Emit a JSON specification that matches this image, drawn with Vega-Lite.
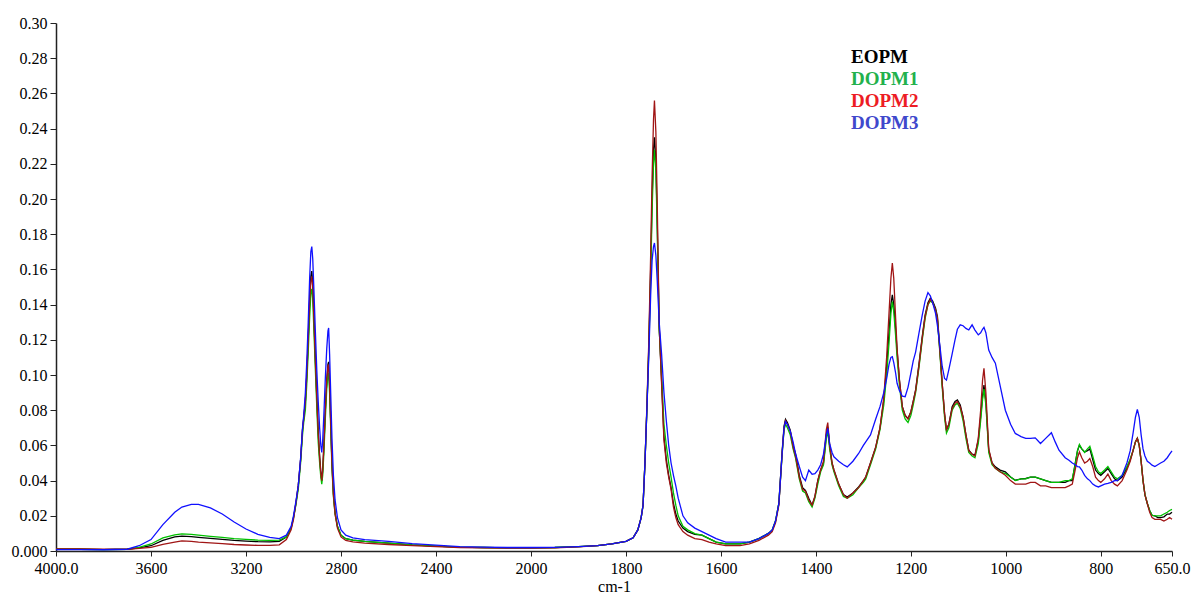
{
"$schema": "https://vega.github.io/schema/vega-lite/v6.json",
"width": 1116, "height": 528,
"autosize": {"type": "none"},
"padding": {"left": 56, "top": 23, "right": 23, "bottom": 45},
"background": "white",
"config": {"view": {"stroke": null}, "font": "Liberation Serif", "axis": {"labelFont": "Liberation Serif", "titleFont": "Liberation Serif"}},
"data": {"values": [
{"w":4000,"EOPM":0.001,"DOPM1":0.001,"DOPM2":0.0012,"DOPM3":0.0008},
{"w":3900,"EOPM":0.001,"DOPM1":0.001,"DOPM2":0.0012,"DOPM3":0.0008},
{"w":3800,"EOPM":0.0008,"DOPM1":0.0008,"DOPM2":0.001,"DOPM3":0.0007},
{"w":3700,"EOPM":0.001,"DOPM1":0.001,"DOPM2":0.001,"DOPM3":0.001},
{"w":3650,"EOPM":0.0018,"DOPM1":0.002,"DOPM2":0.0015,"DOPM3":0.003},
{"w":3600,"EOPM":0.003,"DOPM1":0.004,"DOPM2":0.002,"DOPM3":0.0065},
{"w":3550,"EOPM":0.006,"DOPM1":0.0075,"DOPM2":0.0038,"DOPM3":0.015},
{"w":3500,"EOPM":0.008,"DOPM1":0.0092,"DOPM2":0.005,"DOPM3":0.022},
{"w":3470,"EOPM":0.0085,"DOPM1":0.0097,"DOPM2":0.0057,"DOPM3":0.025},
{"w":3430,"EOPM":0.0082,"DOPM1":0.0094,"DOPM2":0.0055,"DOPM3":0.0265},
{"w":3400,"EOPM":0.0078,"DOPM1":0.009,"DOPM2":0.005,"DOPM3":0.0265},
{"w":3350,"EOPM":0.0072,"DOPM1":0.0083,"DOPM2":0.0046,"DOPM3":0.0245},
{"w":3300,"EOPM":0.0066,"DOPM1":0.0077,"DOPM2":0.0042,"DOPM3":0.021},
{"w":3250,"EOPM":0.006,"DOPM1":0.007,"DOPM2":0.0037,"DOPM3":0.0165},
{"w":3200,"EOPM":0.0056,"DOPM1":0.0066,"DOPM2":0.0034,"DOPM3":0.0125},
{"w":3150,"EOPM":0.0053,"DOPM1":0.0062,"DOPM2":0.0032,"DOPM3":0.0095},
{"w":3100,"EOPM":0.0052,"DOPM1":0.006,"DOPM2":0.0032,"DOPM3":0.0078},
{"w":3060,"EOPM":0.0055,"DOPM1":0.0062,"DOPM2":0.0035,"DOPM3":0.007},
{"w":3030,"EOPM":0.008,"DOPM1":0.008,"DOPM2":0.0065,"DOPM3":0.009},
{"w":3010,"EOPM":0.013,"DOPM1":0.013,"DOPM2":0.012,"DOPM3":0.014},
{"w":3000,"EOPM":0.019,"DOPM1":0.019,"DOPM2":0.018,"DOPM3":0.02},
{"w":2990,"EOPM":0.027,"DOPM1":0.026,"DOPM2":0.027,"DOPM3":0.028},
{"w":2980,"EOPM":0.037,"DOPM1":0.035,"DOPM2":0.037,"DOPM3":0.037},
{"w":2970,"EOPM":0.052,"DOPM1":0.05,"DOPM2":0.052,"DOPM3":0.053},
{"w":2962,"EOPM":0.069,"DOPM1":0.066,"DOPM2":0.069,"DOPM3":0.07},
{"w":2957,"EOPM":0.0755,"DOPM1":0.073,"DOPM2":0.075,"DOPM3":0.077},
{"w":2950,"EOPM":0.085,"DOPM1":0.08,"DOPM2":0.085,"DOPM3":0.09},
{"w":2944,"EOPM":0.1,"DOPM1":0.095,"DOPM2":0.1,"DOPM3":0.108},
{"w":2938,"EOPM":0.12,"DOPM1":0.113,"DOPM2":0.12,"DOPM3":0.13},
{"w":2932,"EOPM":0.143,"DOPM1":0.133,"DOPM2":0.142,"DOPM3":0.155},
{"w":2927,"EOPM":0.156,"DOPM1":0.146,"DOPM2":0.153,"DOPM3":0.17},
{"w":2923,"EOPM":0.159,"DOPM1":0.149,"DOPM2":0.156,"DOPM3":0.173},
{"w":2919,"EOPM":0.152,"DOPM1":0.143,"DOPM2":0.15,"DOPM3":0.166},
{"w":2914,"EOPM":0.133,"DOPM1":0.125,"DOPM2":0.131,"DOPM3":0.148},
{"w":2908,"EOPM":0.11,"DOPM1":0.103,"DOPM2":0.108,"DOPM3":0.125},
{"w":2902,"EOPM":0.088,"DOPM1":0.082,"DOPM2":0.087,"DOPM3":0.103},
{"w":2896,"EOPM":0.068,"DOPM1":0.062,"DOPM2":0.067,"DOPM3":0.085},
{"w":2890,"EOPM":0.054,"DOPM1":0.05,"DOPM2":0.053,"DOPM3":0.07},
{"w":2885,"EOPM":0.045,"DOPM1":0.042,"DOPM2":0.044,"DOPM3":0.06},
{"w":2881,"EOPM":0.04,"DOPM1":0.038,"DOPM2":0.04,"DOPM3":0.056},
{"w":2877,"EOPM":0.046,"DOPM1":0.043,"DOPM2":0.046,"DOPM3":0.063},
{"w":2872,"EOPM":0.06,"DOPM1":0.056,"DOPM2":0.06,"DOPM3":0.078},
{"w":2866,"EOPM":0.08,"DOPM1":0.075,"DOPM2":0.08,"DOPM3":0.098},
{"w":2860,"EOPM":0.097,"DOPM1":0.092,"DOPM2":0.097,"DOPM3":0.115},
{"w":2855,"EOPM":0.106,"DOPM1":0.1,"DOPM2":0.105,"DOPM3":0.125},
{"w":2852,"EOPM":0.1075,"DOPM1":0.101,"DOPM2":0.106,"DOPM3":0.1267},
{"w":2848,"EOPM":0.095,"DOPM1":0.09,"DOPM2":0.094,"DOPM3":0.112},
{"w":2843,"EOPM":0.072,"DOPM1":0.068,"DOPM2":0.071,"DOPM3":0.088},
{"w":2838,"EOPM":0.05,"DOPM1":0.047,"DOPM2":0.049,"DOPM3":0.064},
{"w":2832,"EOPM":0.033,"DOPM1":0.031,"DOPM2":0.032,"DOPM3":0.043},
{"w":2825,"EOPM":0.022,"DOPM1":0.021,"DOPM2":0.021,"DOPM3":0.029},
{"w":2815,"EOPM":0.014,"DOPM1":0.014,"DOPM2":0.013,"DOPM3":0.019},
{"w":2800,"EOPM":0.009,"DOPM1":0.009,"DOPM2":0.008,"DOPM3":0.012},
{"w":2780,"EOPM":0.007,"DOPM1":0.007,"DOPM2":0.006,"DOPM3":0.009},
{"w":2750,"EOPM":0.0062,"DOPM1":0.0062,"DOPM2":0.0052,"DOPM3":0.0075},
{"w":2700,"EOPM":0.0055,"DOPM1":0.0055,"DOPM2":0.0045,"DOPM3":0.0065},
{"w":2600,"EOPM":0.0045,"DOPM1":0.0045,"DOPM2":0.0037,"DOPM3":0.0055},
{"w":2500,"EOPM":0.0035,"DOPM1":0.0035,"DOPM2":0.003,"DOPM3":0.0042},
{"w":2400,"EOPM":0.0028,"DOPM1":0.0028,"DOPM2":0.0025,"DOPM3":0.0033},
{"w":2300,"EOPM":0.0022,"DOPM1":0.0022,"DOPM2":0.002,"DOPM3":0.0025},
{"w":2200,"EOPM":0.002,"DOPM1":0.002,"DOPM2":0.0018,"DOPM3":0.0022},
{"w":2100,"EOPM":0.0018,"DOPM1":0.0018,"DOPM2":0.0017,"DOPM3":0.002},
{"w":2000,"EOPM":0.0018,"DOPM1":0.0018,"DOPM2":0.0016,"DOPM3":0.002},
{"w":1950,"EOPM":0.002,"DOPM1":0.002,"DOPM2":0.0018,"DOPM3":0.0021},
{"w":1900,"EOPM":0.0025,"DOPM1":0.0025,"DOPM2":0.0023,"DOPM3":0.0025},
{"w":1860,"EOPM":0.003,"DOPM1":0.003,"DOPM2":0.003,"DOPM3":0.003},
{"w":1830,"EOPM":0.004,"DOPM1":0.004,"DOPM2":0.004,"DOPM3":0.004},
{"w":1800,"EOPM":0.0055,"DOPM1":0.0055,"DOPM2":0.0055,"DOPM3":0.0055},
{"w":1785,"EOPM":0.0075,"DOPM1":0.0075,"DOPM2":0.0075,"DOPM3":0.0075},
{"w":1775,"EOPM":0.012,"DOPM1":0.012,"DOPM2":0.012,"DOPM3":0.012},
{"w":1768,"EOPM":0.019,"DOPM1":0.019,"DOPM2":0.019,"DOPM3":0.019},
{"w":1764,"EOPM":0.026,"DOPM1":0.026,"DOPM2":0.026,"DOPM3":0.026},
{"w":1760,"EOPM":0.05,"DOPM1":0.05,"DOPM2":0.05,"DOPM3":0.05},
{"w":1756,"EOPM":0.08,"DOPM1":0.08,"DOPM2":0.082,"DOPM3":0.08},
{"w":1752,"EOPM":0.115,"DOPM1":0.113,"DOPM2":0.118,"DOPM3":0.11},
{"w":1748,"EOPM":0.16,"DOPM1":0.155,"DOPM2":0.168,"DOPM3":0.145},
{"w":1745,"EOPM":0.2,"DOPM1":0.193,"DOPM2":0.212,"DOPM3":0.165},
{"w":1742,"EOPM":0.228,"DOPM1":0.22,"DOPM2":0.245,"DOPM3":0.173},
{"w":1740,"EOPM":0.235,"DOPM1":0.228,"DOPM2":0.256,"DOPM3":0.175},
{"w":1737,"EOPM":0.222,"DOPM1":0.216,"DOPM2":0.238,"DOPM3":0.168},
{"w":1734,"EOPM":0.185,"DOPM1":0.18,"DOPM2":0.195,"DOPM3":0.153},
{"w":1730,"EOPM":0.127,"DOPM1":0.126,"DOPM2":0.128,"DOPM3":0.13},
{"w":1725,"EOPM":0.097,"DOPM1":0.1,"DOPM2":0.095,"DOPM3":0.112},
{"w":1720,"EOPM":0.065,"DOPM1":0.072,"DOPM2":0.063,"DOPM3":0.09},
{"w":1715,"EOPM":0.052,"DOPM1":0.06,"DOPM2":0.05,"DOPM3":0.074},
{"w":1710,"EOPM":0.043,"DOPM1":0.05,"DOPM2":0.042,"DOPM3":0.06},
{"w":1705,"EOPM":0.036,"DOPM1":0.042,"DOPM2":0.035,"DOPM3":0.05},
{"w":1700,"EOPM":0.027,"DOPM1":0.033,"DOPM2":0.025,"DOPM3":0.043},
{"w":1695,"EOPM":0.021,"DOPM1":0.026,"DOPM2":0.019,"DOPM3":0.037},
{"w":1690,"EOPM":0.017,"DOPM1":0.02,"DOPM2":0.015,"DOPM3":0.03},
{"w":1680,"EOPM":0.013,"DOPM1":0.014,"DOPM2":0.011,"DOPM3":0.02},
{"w":1670,"EOPM":0.011,"DOPM1":0.012,"DOPM2":0.009,"DOPM3":0.016},
{"w":1655,"EOPM":0.0095,"DOPM1":0.0099,"DOPM2":0.007,"DOPM3":0.013},
{"w":1640,"EOPM":0.009,"DOPM1":0.009,"DOPM2":0.0065,"DOPM3":0.011},
{"w":1625,"EOPM":0.007,"DOPM1":0.007,"DOPM2":0.005,"DOPM3":0.009},
{"w":1610,"EOPM":0.005,"DOPM1":0.005,"DOPM2":0.004,"DOPM3":0.007},
{"w":1590,"EOPM":0.004,"DOPM1":0.004,"DOPM2":0.003,"DOPM3":0.005},
{"w":1560,"EOPM":0.004,"DOPM1":0.004,"DOPM2":0.003,"DOPM3":0.005},
{"w":1540,"EOPM":0.005,"DOPM1":0.005,"DOPM2":0.004,"DOPM3":0.005},
{"w":1520,"EOPM":0.007,"DOPM1":0.007,"DOPM2":0.006,"DOPM3":0.007},
{"w":1500,"EOPM":0.01,"DOPM1":0.01,"DOPM2":0.009,"DOPM3":0.01},
{"w":1492,"EOPM":0.0118,"DOPM1":0.012,"DOPM2":0.011,"DOPM3":0.012},
{"w":1485,"EOPM":0.017,"DOPM1":0.017,"DOPM2":0.016,"DOPM3":0.017},
{"w":1478,"EOPM":0.027,"DOPM1":0.027,"DOPM2":0.026,"DOPM3":0.027},
{"w":1471,"EOPM":0.057,"DOPM1":0.055,"DOPM2":0.056,"DOPM3":0.056},
{"w":1467,"EOPM":0.071,"DOPM1":0.069,"DOPM2":0.07,"DOPM3":0.07},
{"w":1464,"EOPM":0.0748,"DOPM1":0.072,"DOPM2":0.074,"DOPM3":0.0735},
{"w":1460,"EOPM":0.073,"DOPM1":0.07,"DOPM2":0.072,"DOPM3":0.072},
{"w":1454,"EOPM":0.0687,"DOPM1":0.066,"DOPM2":0.068,"DOPM3":0.068},
{"w":1448,"EOPM":0.06,"DOPM1":0.058,"DOPM2":0.059,"DOPM3":0.062},
{"w":1443,"EOPM":0.0554,"DOPM1":0.053,"DOPM2":0.054,"DOPM3":0.0554},
{"w":1435,"EOPM":0.043,"DOPM1":0.041,"DOPM2":0.042,"DOPM3":0.048},
{"w":1428,"EOPM":0.036,"DOPM1":0.034,"DOPM2":0.035,"DOPM3":0.042},
{"w":1422,"EOPM":0.0345,"DOPM1":0.033,"DOPM2":0.034,"DOPM3":0.04},
{"w":1415,"EOPM":0.03,"DOPM1":0.028,"DOPM2":0.029,"DOPM3":0.046},
{"w":1408,"EOPM":0.026,"DOPM1":0.025,"DOPM2":0.026,"DOPM3":0.0436},
{"w":1402,"EOPM":0.031,"DOPM1":0.03,"DOPM2":0.031,"DOPM3":0.044},
{"w":1396,"EOPM":0.04,"DOPM1":0.038,"DOPM2":0.04,"DOPM3":0.046},
{"w":1390,"EOPM":0.046,"DOPM1":0.045,"DOPM2":0.046,"DOPM3":0.049},
{"w":1384,"EOPM":0.05,"DOPM1":0.049,"DOPM2":0.051,"DOPM3":0.055},
{"w":1378,"EOPM":0.066,"DOPM1":0.064,"DOPM2":0.069,"DOPM3":0.066},
{"w":1375,"EOPM":0.0706,"DOPM1":0.068,"DOPM2":0.073,"DOPM3":0.0697},
{"w":1371,"EOPM":0.06,"DOPM1":0.058,"DOPM2":0.06,"DOPM3":0.061},
{"w":1366,"EOPM":0.05,"DOPM1":0.049,"DOPM2":0.05,"DOPM3":0.056},
{"w":1362,"EOPM":0.046,"DOPM1":0.045,"DOPM2":0.046,"DOPM3":0.0535},
{"w":1352,"EOPM":0.038,"DOPM1":0.037,"DOPM2":0.038,"DOPM3":0.051},
{"w":1342,"EOPM":0.032,"DOPM1":0.031,"DOPM2":0.032,"DOPM3":0.049},
{"w":1334,"EOPM":0.0307,"DOPM1":0.03,"DOPM2":0.03,"DOPM3":0.0478},
{"w":1322,"EOPM":0.033,"DOPM1":0.032,"DOPM2":0.033,"DOPM3":0.051},
{"w":1310,"EOPM":0.0364,"DOPM1":0.036,"DOPM2":0.036,"DOPM3":0.0554},
{"w":1300,"EOPM":0.04,"DOPM1":0.039,"DOPM2":0.04,"DOPM3":0.06},
{"w":1295,"EOPM":0.042,"DOPM1":0.041,"DOPM2":0.042,"DOPM3":0.062},
{"w":1285,"EOPM":0.05,"DOPM1":0.049,"DOPM2":0.05,"DOPM3":0.066},
{"w":1274,"EOPM":0.059,"DOPM1":0.058,"DOPM2":0.059,"DOPM3":0.075},
{"w":1265,"EOPM":0.07,"DOPM1":0.069,"DOPM2":0.07,"DOPM3":0.082},
{"w":1257,"EOPM":0.0858,"DOPM1":0.083,"DOPM2":0.087,"DOPM3":0.09},
{"w":1251,"EOPM":0.105,"DOPM1":0.1,"DOPM2":0.11,"DOPM3":0.098},
{"w":1246,"EOPM":0.124,"DOPM1":0.118,"DOPM2":0.135,"DOPM3":0.106},
{"w":1242,"EOPM":0.14,"DOPM1":0.135,"DOPM2":0.155,"DOPM3":0.11},
{"w":1239,"EOPM":0.1455,"DOPM1":0.1417,"DOPM2":0.1636,"DOPM3":0.1104},
{"w":1236,"EOPM":0.14,"DOPM1":0.136,"DOPM2":0.155,"DOPM3":0.107},
{"w":1232,"EOPM":0.126,"DOPM1":0.122,"DOPM2":0.132,"DOPM3":0.101},
{"w":1229,"EOPM":0.114,"DOPM1":0.11,"DOPM2":0.115,"DOPM3":0.0953},
{"w":1224,"EOPM":0.097,"DOPM1":0.094,"DOPM2":0.097,"DOPM3":0.091},
{"w":1218,"EOPM":0.082,"DOPM1":0.08,"DOPM2":0.082,"DOPM3":0.088},
{"w":1212,"EOPM":0.077,"DOPM1":0.075,"DOPM2":0.077,"DOPM3":0.0877},
{"w":1206,"EOPM":0.0753,"DOPM1":0.073,"DOPM2":0.075,"DOPM3":0.093},
{"w":1200,"EOPM":0.079,"DOPM1":0.077,"DOPM2":0.079,"DOPM3":0.101},
{"w":1195,"EOPM":0.085,"DOPM1":0.083,"DOPM2":0.085,"DOPM3":0.108},
{"w":1190,"EOPM":0.0915,"DOPM1":0.09,"DOPM2":0.091,"DOPM3":0.113},
{"w":1183,"EOPM":0.106,"DOPM1":0.104,"DOPM2":0.105,"DOPM3":0.1237},
{"w":1176,"EOPM":0.1218,"DOPM1":0.12,"DOPM2":0.121,"DOPM3":0.134},
{"w":1170,"EOPM":0.134,"DOPM1":0.132,"DOPM2":0.133,"DOPM3":0.142},
{"w":1164,"EOPM":0.141,"DOPM1":0.14,"DOPM2":0.14,"DOPM3":0.1468},
{"w":1159,"EOPM":0.1436,"DOPM1":0.142,"DOPM2":0.143,"DOPM3":0.145},
{"w":1154,"EOPM":0.142,"DOPM1":0.141,"DOPM2":0.141,"DOPM3":0.141},
{"w":1148,"EOPM":0.138,"DOPM1":0.137,"DOPM2":0.137,"DOPM3":0.135},
{"w":1144,"EOPM":0.1332,"DOPM1":0.131,"DOPM2":0.132,"DOPM3":0.128},
{"w":1139,"EOPM":0.115,"DOPM1":0.113,"DOPM2":0.114,"DOPM3":0.117},
{"w":1134,"EOPM":0.0953,"DOPM1":0.093,"DOPM2":0.095,"DOPM3":0.105},
{"w":1129,"EOPM":0.078,"DOPM1":0.076,"DOPM2":0.078,"DOPM3":0.098},
{"w":1125,"EOPM":0.0687,"DOPM1":0.067,"DOPM2":0.069,"DOPM3":0.0971},
{"w":1120,"EOPM":0.072,"DOPM1":0.07,"DOPM2":0.072,"DOPM3":0.103},
{"w":1113,"EOPM":0.082,"DOPM1":0.08,"DOPM2":0.081,"DOPM3":0.112},
{"w":1107,"EOPM":0.085,"DOPM1":0.083,"DOPM2":0.084,"DOPM3":0.12},
{"w":1102,"EOPM":0.0858,"DOPM1":0.084,"DOPM2":0.085,"DOPM3":0.126},
{"w":1096,"EOPM":0.083,"DOPM1":0.081,"DOPM2":0.082,"DOPM3":0.1285},
{"w":1090,"EOPM":0.076,"DOPM1":0.074,"DOPM2":0.076,"DOPM3":0.128},
{"w":1084,"EOPM":0.066,"DOPM1":0.064,"DOPM2":0.066,"DOPM3":0.1265},
{"w":1078,"EOPM":0.0573,"DOPM1":0.056,"DOPM2":0.057,"DOPM3":0.1256},
{"w":1071,"EOPM":0.055,"DOPM1":0.054,"DOPM2":0.055,"DOPM3":0.1285},
{"w":1065,"EOPM":0.0545,"DOPM1":0.053,"DOPM2":0.054,"DOPM3":0.1255},
{"w":1058,"EOPM":0.063,"DOPM1":0.061,"DOPM2":0.064,"DOPM3":0.1228},
{"w":1053,"EOPM":0.0763,"DOPM1":0.074,"DOPM2":0.08,"DOPM3":0.124},
{"w":1049,"EOPM":0.088,"DOPM1":0.086,"DOPM2":0.097,"DOPM3":0.126},
{"w":1046,"EOPM":0.0943,"DOPM1":0.092,"DOPM2":0.1038,"DOPM3":0.1271},
{"w":1042,"EOPM":0.085,"DOPM1":0.083,"DOPM2":0.09,"DOPM3":0.124},
{"w":1036,"EOPM":0.0573,"DOPM1":0.056,"DOPM2":0.058,"DOPM3":0.1142},
{"w":1029,"EOPM":0.05,"DOPM1":0.049,"DOPM2":0.05,"DOPM3":0.11},
{"w":1022,"EOPM":0.0478,"DOPM1":0.047,"DOPM2":0.047,"DOPM3":0.1067},
{"w":1012,"EOPM":0.046,"DOPM1":0.045,"DOPM2":0.045,"DOPM3":0.094},
{"w":1001,"EOPM":0.045,"DOPM1":0.044,"DOPM2":0.043,"DOPM3":0.08},
{"w":990,"EOPM":0.042,"DOPM1":0.042,"DOPM2":0.04,"DOPM3":0.072},
{"w":980,"EOPM":0.0402,"DOPM1":0.04,"DOPM2":0.038,"DOPM3":0.0668},
{"w":968,"EOPM":0.041,"DOPM1":0.041,"DOPM2":0.038,"DOPM3":0.065},
{"w":958,"EOPM":0.0412,"DOPM1":0.041,"DOPM2":0.038,"DOPM3":0.064},
{"w":948,"EOPM":0.042,"DOPM1":0.042,"DOPM2":0.039,"DOPM3":0.064},
{"w":938,"EOPM":0.042,"DOPM1":0.042,"DOPM2":0.039,"DOPM3":0.0643},
{"w":927,"EOPM":0.041,"DOPM1":0.041,"DOPM2":0.037,"DOPM3":0.0611},
{"w":916,"EOPM":0.04,"DOPM1":0.04,"DOPM2":0.037,"DOPM3":0.064},
{"w":904,"EOPM":0.039,"DOPM1":0.039,"DOPM2":0.036,"DOPM3":0.0672},
{"w":896,"EOPM":0.039,"DOPM1":0.039,"DOPM2":0.036,"DOPM3":0.062},
{"w":888,"EOPM":0.039,"DOPM1":0.039,"DOPM2":0.036,"DOPM3":0.0573},
{"w":875,"EOPM":0.039,"DOPM1":0.04,"DOPM2":0.036,"DOPM3":0.053},
{"w":867,"EOPM":0.04,"DOPM1":0.04,"DOPM2":0.037,"DOPM3":0.0516},
{"w":860,"EOPM":0.04,"DOPM1":0.041,"DOPM2":0.038,"DOPM3":0.05},
{"w":854,"EOPM":0.0497,"DOPM1":0.049,"DOPM2":0.046,"DOPM3":0.049},
{"w":849,"EOPM":0.057,"DOPM1":0.057,"DOPM2":0.053,"DOPM3":0.048},
{"w":845,"EOPM":0.06,"DOPM1":0.0605,"DOPM2":0.0563,"DOPM3":0.0478},
{"w":840,"EOPM":0.058,"DOPM1":0.058,"DOPM2":0.053,"DOPM3":0.046},
{"w":834,"EOPM":0.0563,"DOPM1":0.056,"DOPM2":0.05,"DOPM3":0.043},
{"w":828,"EOPM":0.057,"DOPM1":0.058,"DOPM2":0.051,"DOPM3":0.041},
{"w":823,"EOPM":0.058,"DOPM1":0.0595,"DOPM2":0.0526,"DOPM3":0.04},
{"w":817,"EOPM":0.052,"DOPM1":0.054,"DOPM2":0.048,"DOPM3":0.038},
{"w":811,"EOPM":0.046,"DOPM1":0.048,"DOPM2":0.042,"DOPM3":0.037},
{"w":805,"EOPM":0.044,"DOPM1":0.045,"DOPM2":0.04,"DOPM3":0.0364},
{"w":800,"EOPM":0.043,"DOPM1":0.044,"DOPM2":0.039,"DOPM3":0.037},
{"w":792,"EOPM":0.045,"DOPM1":0.046,"DOPM2":0.041,"DOPM3":0.038},
{"w":785,"EOPM":0.0469,"DOPM1":0.048,"DOPM2":0.0437,"DOPM3":0.0384},
{"w":778,"EOPM":0.044,"DOPM1":0.045,"DOPM2":0.04,"DOPM3":0.039},
{"w":771,"EOPM":0.041,"DOPM1":0.042,"DOPM2":0.038,"DOPM3":0.04},
{"w":765,"EOPM":0.04,"DOPM1":0.041,"DOPM2":0.037,"DOPM3":0.04},
{"w":755,"EOPM":0.042,"DOPM1":0.043,"DOPM2":0.04,"DOPM3":0.043},
{"w":745,"EOPM":0.047,"DOPM1":0.048,"DOPM2":0.046,"DOPM3":0.05},
{"w":738,"EOPM":0.052,"DOPM1":0.052,"DOPM2":0.051,"DOPM3":0.057},
{"w":732,"EOPM":0.057,"DOPM1":0.057,"DOPM2":0.057,"DOPM3":0.067},
{"w":727,"EOPM":0.062,"DOPM1":0.062,"DOPM2":0.062,"DOPM3":0.076},
{"w":723,"EOPM":0.064,"DOPM1":0.064,"DOPM2":0.064,"DOPM3":0.0805},
{"w":719,"EOPM":0.06,"DOPM1":0.06,"DOPM2":0.06,"DOPM3":0.076},
{"w":715,"EOPM":0.051,"DOPM1":0.051,"DOPM2":0.051,"DOPM3":0.066},
{"w":711,"EOPM":0.04,"DOPM1":0.04,"DOPM2":0.04,"DOPM3":0.058},
{"w":707,"EOPM":0.032,"DOPM1":0.032,"DOPM2":0.032,"DOPM3":0.054},
{"w":702,"EOPM":0.027,"DOPM1":0.027,"DOPM2":0.027,"DOPM3":0.051},
{"w":697,"EOPM":0.023,"DOPM1":0.023,"DOPM2":0.022,"DOPM3":0.05},
{"w":692,"EOPM":0.0203,"DOPM1":0.0203,"DOPM2":0.019,"DOPM3":0.0488},
{"w":686,"EOPM":0.02,"DOPM1":0.02,"DOPM2":0.018,"DOPM3":0.048},
{"w":680,"EOPM":0.019,"DOPM1":0.02,"DOPM2":0.018,"DOPM3":0.049},
{"w":674,"EOPM":0.019,"DOPM1":0.02,"DOPM2":0.018,"DOPM3":0.05},
{"w":667,"EOPM":0.0194,"DOPM1":0.021,"DOPM2":0.017,"DOPM3":0.051},
{"w":660,"EOPM":0.021,"DOPM1":0.022,"DOPM2":0.018,"DOPM3":0.053},
{"w":655,"EOPM":0.021,"DOPM1":0.023,"DOPM2":0.019,"DOPM3":0.055},
{"w":650,"EOPM":0.022,"DOPM1":0.0236,"DOPM2":0.018,"DOPM3":0.0569}
]},
"transform": [{"fold": ["EOPM","DOPM1","DOPM2","DOPM3"], "as": ["series","abs"]}],
"mark": {"type": "line", "strokeWidth": 1.3},
"encoding": {
  "x": {"field": "w", "type": "quantitative",
    "scale": {"domain": [4000, 2000, 650], "range": [0, 475, 1116], "nice": false, "zero": false},
    "axis": {"values": [4000,3600,3200,2800,2400,2000,1800,1600,1400,1200,1000,800,650],
      "labelExpr": "datum.value == 4000 ? '4000.0' : datum.value == 650 ? '650.0' : format(datum.value, 'd')",
      "title": "cm-1", "titleFont": "Liberation Serif", "titleFontSize": 16, "titleFontWeight": "normal", "titleColor": "#000", "titlePadding": 2,
      "labelFont": "Liberation Serif", "labelFontSize": 16, "labelColor": "#000", "labelPadding": 4, "labelOverlap": false, "labelFlush": false,
      "tickColor": "#222", "tickSize": 5, "domainColor": "#222", "domainWidth": 1.5, "grid": false}},
  "y": {"field": "abs", "type": "quantitative",
    "scale": {"domain": [0, 0.3], "nice": false, "zero": true},
    "axis": {"values": [0,0.02,0.04,0.06,0.08,0.1,0.12,0.14,0.16,0.18,0.2,0.22,0.24,0.26,0.28,0.3],
      "labelExpr": "datum.value == 0 ? '0.000' : format(datum.value, '.2f')",
      "title": null, "labelFont": "Liberation Serif", "labelFontSize": 16, "labelColor": "#000", "labelPadding": 3,
      "tickColor": "#222", "tickSize": 6, "domainColor": "#222", "domainWidth": 1.5, "grid": false}},
  "color": {"field": "series", "type": "nominal",
    "scale": {"domain": ["EOPM","DOPM1","DOPM2","DOPM3"], "range": ["#000000","#00c000","#a01515","#1010ff"]},
    "legend": {"orient": "none", "legendX": 776, "legendY": 24, "title": null,
      "symbolOpacity": 0, "symbolSize": 0, "symbolStrokeWidth": 0, "labelOffset": 0,
      "labelFont": "Liberation Serif", "labelFontSize": 19, "labelFontWeight": "bold", "rowPadding": 2.3,
      "encode": {"labels": {"update": {"fill": {"signal": "datum.label == 'EOPM' ? '#000000' : datum.label == 'DOPM1' ? '#22b14c' : datum.label == 'DOPM2' ? '#ed1c24' : '#3f48cc'"}}}}}}
}
}
